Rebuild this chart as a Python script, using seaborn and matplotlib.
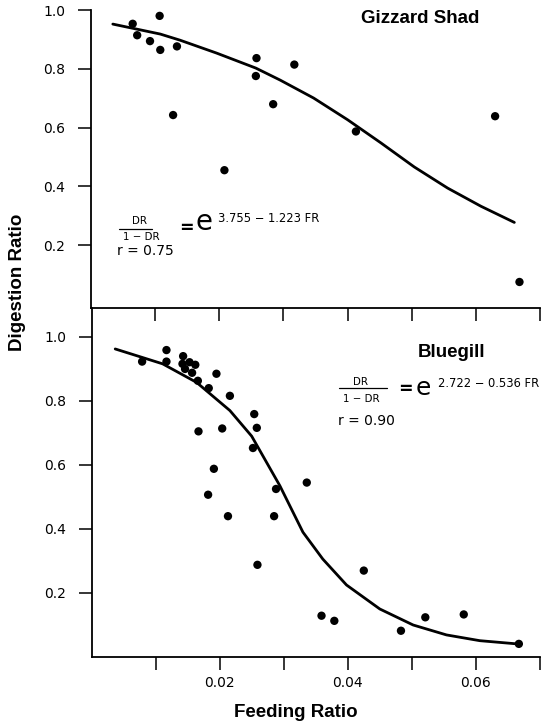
import matplotlib
matplotlib.use("Agg")
import matplotlib.pyplot as plt
import seaborn as sns
import pandas as pd
from matplotlib.lines import Line2D

# ---------------- data ----------------
shad_fr = [0.0065, 0.0072, 0.0092, 0.0107, 0.0108, 0.0134, 0.0128, 0.0208,
           0.0258, 0.0257, 0.0284, 0.0317, 0.0413, 0.0630, 0.0668]
shad_dr = [0.954, 0.915, 0.895, 0.981, 0.865, 0.877, 0.643, 0.455,
           0.837, 0.776, 0.680, 0.815, 0.587, 0.639, 0.074]

shad_curve_fr = [0.0034, 0.0108, 0.0139, 0.0196, 0.0257, 0.0295, 0.0347,
                 0.0400, 0.0452, 0.0504, 0.0556, 0.0608, 0.0660]
shad_curve_dr = [0.953, 0.919, 0.898, 0.854, 0.803, 0.762, 0.701,
                 0.627, 0.548, 0.466, 0.394, 0.332, 0.277]

blue_fr = [0.0079, 0.0117, 0.0117, 0.0143, 0.0142, 0.0153, 0.0162, 0.0146,
           0.0157, 0.0166, 0.0195, 0.0183, 0.0216, 0.0167, 0.0204, 0.0254,
           0.0258, 0.0252, 0.0191, 0.0182, 0.0213, 0.0288, 0.0285, 0.0259,
           0.0336, 0.0425, 0.0359, 0.0379, 0.0483, 0.0521, 0.0581, 0.0667]
blue_dr = [0.923, 0.959, 0.923, 0.940, 0.916, 0.921, 0.913, 0.900,
           0.888, 0.863, 0.885, 0.840, 0.816, 0.705, 0.714, 0.759,
           0.716, 0.653, 0.588, 0.507, 0.440, 0.525, 0.440, 0.288,
           0.545, 0.270, 0.129, 0.113, 0.082, 0.124, 0.133, 0.041]

blue_curve_fr = [0.0037, 0.0111, 0.0164, 0.0216, 0.0250, 0.0294, 0.0330,
                 0.0361, 0.0398, 0.0450, 0.0502, 0.0554, 0.0606, 0.0664]
blue_curve_dr = [0.9625, 0.916, 0.858, 0.770, 0.690, 0.535, 0.390,
                 0.306, 0.225, 0.150, 0.100, 0.069, 0.051, 0.041]

y_ticks = [0.2, 0.4, 0.6, 0.8, 1.0]
y_tick_labels = ["0.2", "0.4", "0.6", "0.8", "1.0"]
x_ticks = [0.01, 0.02, 0.03, 0.04, 0.05, 0.06, 0.07]
x_tick_labels = ["", "0.02", "", "0.04", "", "0.06", ""]

# ---------------- figure ----------------
sns.set_style("ticks")
plt.rcParams["font.family"] = ["DejaVu Sans"]
plt.rcParams.update({"text.color": "black", "axes.labelcolor": "black",
                     "xtick.color": "black", "ytick.color": "black",
                     "axes.edgecolor": "black"})

W, H = 543, 723
fig = plt.figure(figsize=(W / 100, H / 100), dpi=100)


def fx(px):
    return px / W


def fy(py):
    return 1 - py / H


ax_top = fig.add_axes([fx(91), fy(307.5), (540 - 91) / W, (307.5 - 10.3) / H])
ax_bot = fig.add_axes([fx(91.5), fy(657), (540 - 91.5) / W, (657 - 307.5) / H])

panels = [
    (ax_top, shad_fr, shad_dr, shad_curve_fr, shad_curve_dr, (-0.013, 1.0)),
    (ax_bot, blue_fr, blue_dr, blue_curve_fr, blue_curve_dr, (0.0, 1.092)),
]

for ax, fr, dr, cfr, cdr, ylim in panels:
    pts = pd.DataFrame({"fr": fr, "dr": dr})
    cur = pd.DataFrame({"fr": cfr, "dr": cdr})
    sns.lineplot(data=cur, x="fr", y="dr", ax=ax, color="black", lw=2.0,
                 errorbar=None, sort=True)
    sns.scatterplot(data=pts, x="fr", y="dr", ax=ax, color="black", s=36,
                    edgecolor="none", zorder=3)
    ax.set_xlim(0, 0.07)
    ax.set_ylim(*ylim)
    ax.set_xlabel("")
    ax.set_ylabel("")
    ax.set_yticks(y_ticks)
    ax.set_yticklabels(y_tick_labels)
    ax.set_xticks(x_ticks)
    for s in ("top", "right"):
        ax.spines[s].set_visible(False)
    for s in ("left", "bottom"):
        ax.spines[s].set_linewidth(1.3)
        ax.spines[s].set_color("black")
    ax.tick_params(axis="both", direction="out", length=9.4, width=1.1,
                   colors="black", labelcolor="black", labelsize=10)
    ax.tick_params(axis="y", pad=9)
    ax.tick_params(axis="x", pad=4)
    ax.set_facecolor("none")

ax_top.set_xticklabels([""] * len(x_ticks))
ax_bot.set_xticklabels(x_tick_labels)

# axis labels
fig.text(fx(17.5), fy(282), "Digestion Ratio", rotation=90, ha="center",
         va="center", family="Liberation Sans", weight="bold", fontsize=13.5,
         color="black")
fig.text(fx(296), fy(717), "Feeding Ratio", ha="center", va="baseline",
         family="Liberation Sans", weight="bold", fontsize=13.5, color="black")

# panel titles
fig.text(fx(420.5), fy(22.7), "Gizzard Shad", ha="center", va="baseline",
         family="Liberation Sans", weight="bold", fontsize=13.5, color="black")
fig.text(fx(451.5), fy(357.3), "Bluegill", ha="center", va="baseline",
         family="Liberation Sans", weight="bold", fontsize=13.5, color="black")


# equations
def equation(num_cx, num_base, bar_x0, bar_x1, bar_y, den_cx, den_base,
             eq_cx, eq_cy, e_x, e_base, e_size, exp_x, exp_base, exponent,
             r_x, r_base, r_text):
    kw = dict(va="baseline", color="black")
    fig.text(fx(num_cx), fy(num_base), "DR", ha="center", fontsize=7.4, **kw)
    fig.add_artist(Line2D([fx(bar_x0), fx(bar_x1)], [fy(bar_y), fy(bar_y)],
                          transform=fig.transFigure, color="black", lw=0.9))
    fig.text(fx(den_cx), fy(den_base), "1 \u2212 DR", ha="center",
             fontsize=7.4, **kw)
    fig.text(fx(eq_cx), fy(eq_cy + 0.33 * 17), "=", ha="center",
             fontsize=12.5, weight="bold", **kw)
    fig.text(fx(e_x), fy(e_base), "e", ha="left", fontsize=e_size, **kw)
    fig.text(fx(exp_x), fy(exp_base), exponent, ha="left", fontsize=8.3, **kw)
    fig.text(fx(r_x), fy(r_base), r_text, ha="left", fontsize=10, **kw)


equation(139.5, 224, 119, 152, 229.3, 141, 240, 186, 227, 195.8, 230, 20,
         217.5, 222, "3.755 \u2212 1.223 FR", 117, 255, "r = 0.75")
equation(360.7, 385, 339.3, 386.7, 387.7, 361.7, 401.7, 405, 388.5, 415.2,
         395, 18, 438.5, 387.3, "2.722 \u2212 0.536 FR", 337.5, 425, "r = 0.90")

fig.savefig("out.png", dpi=100)
